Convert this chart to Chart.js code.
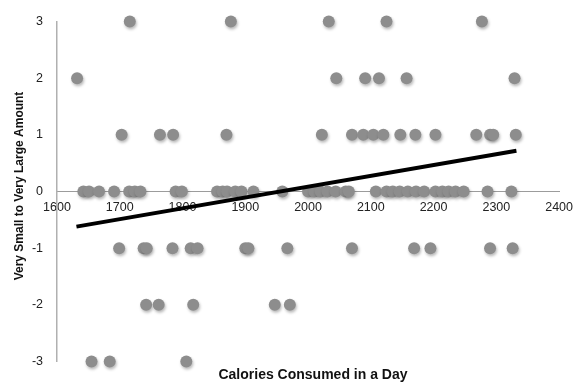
<!DOCTYPE html>
<html>
<head>
<meta charset="utf-8">
<script src="https://cdn.jsdelivr.net/npm/chart.js@4/dist/chart.umd.min.js"></script>
<style>
  html, body { margin: 0; padding: 0; background: #fff; }
  #wrap { width: 582px; height: 383px; }
</style>
</head>
<body>
<div id="wrap"><canvas id="caloriesChart" width="582" height="383"></canvas></div>
<script>
// calories, grouped by the amount rating (y value)
const ratingLevels = [3, 2, 1, 0, -1, -2, -3];
const caloriesRated3 = [1716, 1877, 2033, 2125, 2277];
const caloriesRated2 = [1632, 2045, 2091, 2113, 2157, 2329];
const caloriesRated1 = [1703, 1764, 1785, 1870, 2022, 2070, 2088, 2104, 2120, 2147, 2171, 2203, 2268, 2290, 2295, 2331];
const caloriesRated0 = [1642, 1651, 1667, 1691, 1715, 1724, 1733, 1789, 1799, 1855, 1864, 1871, 1884, 1894, 1913, 1959,
  2000, 2010, 2020, 2031, 2044, 2060, 2065, 2108, 2125, 2135, 2146, 2159, 2172, 2185, 2203, 2214, 2224, 2235, 2248, 2286, 2324];
const caloriesRatedMinus1 = [1699, 1738, 1743, 1784, 1813, 1824, 1900, 1905, 1967, 2070, 2169, 2195, 2290, 2326];
const caloriesRatedMinus2 = [1742, 1762, 1817, 1947, 1971];
const caloriesRatedMinus3 = [1655, 1684, 1806];

// linear trendline end points
const trendCalories = [1631, 2332];
const trendAmounts = [-0.62, 0.72];

const xTitle = "Calories Consumed in a Day";
const yTitle = "Very Small to Very Large Amount";

const caloriesLists = [caloriesRated3, caloriesRated2, caloriesRated1, caloriesRated0,
  caloriesRatedMinus1, caloriesRatedMinus2, caloriesRatedMinus3];

const scatterPoints = [];
caloriesLists.forEach((list, i) => {
  list.forEach((c) => scatterPoints.push({ x: c, y: ratingLevels[i] }));
});
const trendPoints = trendCalories.map((c, i) => ({ x: c, y: trendAmounts[i] }));

const FONT = "'Liberation Sans', Arial, sans-serif";

// soft shadow under the markers, like the original
const markerShadow = {
  id: "markerShadow",
  beforeDatasetDraw(chart, args) {
    if (args.index !== 1) return;
    const ctx = chart.ctx;
    ctx.save();
    ctx.shadowColor = "rgba(0,0,0,0.28)";
    ctx.shadowBlur = 3;
    ctx.shadowOffsetX = 1;
    ctx.shadowOffsetY = 2;
  },
  afterDatasetDraw(chart, args) {
    if (args.index !== 1) return;
    chart.ctx.restore();
  },
};

// axis titles
const axisTitles = {
  id: "axisTitles",
  afterDraw(chart) {
    const ctx = chart.ctx;
    ctx.save();
    ctx.fillStyle = "#111";
    ctx.textAlign = "center";
    ctx.textBaseline = "middle";
    ctx.font = "bold 14px " + FONT;
    ctx.fillText(xTitle, 313, 375);
    ctx.translate(20, 186);
    ctx.rotate(-Math.PI / 2);
    ctx.font = "bold 12px " + FONT;
    ctx.fillText(yTitle, 0, 0);
    ctx.restore();
  },
};

const chartCtx = document.getElementById("caloriesChart").getContext("2d");
const caloriesChart = new Chart(chartCtx, {
  type: "scatter",
  data: {
    datasets: [
      {
        label: "Trend",
        data: trendPoints,
        showLine: true,
        borderColor: "#000",
        borderWidth: 4,
        pointRadius: 0,
        fill: false,
        clip: false,
        order: 0,
      },
      {
        label: "Amount",
        data: scatterPoints,
        pointRadius: 6,
        pointBackgroundColor: "#8d8d8d",
        pointBorderWidth: 0,
        borderColor: "#8d8d8d",
        clip: false,
        order: 1,
      },
    ],
  },
  options: {
    responsive: false,
    animation: false,
    events: [],
    layout: { padding: { left: 0, right: 15, top: 17, bottom: 19 } },
    plugins: { legend: { display: false }, tooltip: { enabled: false } },
    scales: {
      x: {
        type: "linear",
        position: { y: 0 },
        min: 1600,
        max: 2400,
        grid: { display: false, drawTicks: false },
        border: { display: true, color: "#9c9c9c", width: 1 },
        ticks: {
          stepSize: 100,
          padding: 9,
          color: "#222",
          font: { family: FONT, size: 12.5 },
          maxRotation: 0,
          callback: (v) => String(v),
        },
      },
      y: {
        type: "linear",
        position: "left",
        min: -3,
        max: 3,
        grid: { display: false, drawTicks: false },
        border: { display: true, color: "#b0b0b0", width: 1.5 },
        ticks: {
          stepSize: 1,
          padding: 14,
          color: "#222",
          font: { family: FONT, size: 12.5 },
          callback: (v) => String(v),
        },
        afterFit: (scale) => {
          scale.width = 57;
        },
      },
    },
  },
  plugins: [markerShadow, axisTitles],
});
</script>
</body>
</html>
